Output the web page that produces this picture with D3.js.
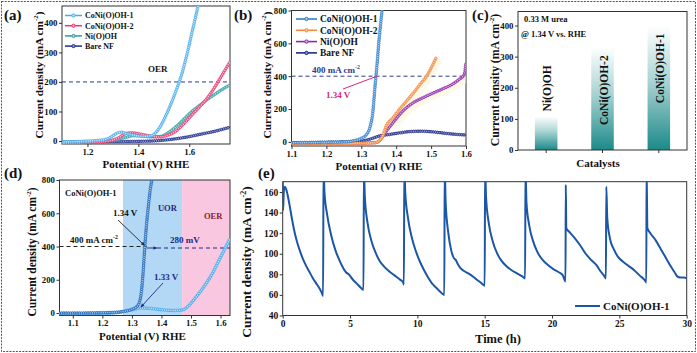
<!DOCTYPE html>
<html><head><meta charset="utf-8">
<script src="https://cdn.jsdelivr.net/npm/d3@7"></script>
<style>
html,body{margin:0;padding:0;background:#fff;}
svg{display:block;font-family:"Liberation Serif","Times New Roman",serif;font-weight:bold;}
</style></head>
<body><svg id="c" width="697" height="353"></svg>
<script>
// ---------- DATA ----------
// (a) OER LSV (1 M KOH)
const aSeriesNames = ["CoNi(O)OH-1","CoNi(O)OH-2","Ni(O)OH","Bare NF"];
const aCoNi1 = [[1.10,-3],[1.15,-2],[1.20,0],[1.25,3],[1.28,8],[1.30,18],[1.32,28],[1.335,30],[1.35,26],[1.38,20],[1.42,16],[1.45,18],[1.47,30],[1.49,55],[1.51,90],[1.53,130],[1.55,175],[1.57,225],[1.59,290],[1.61,365],[1.63,440],[1.64,480]];
const aCoNi2 = [[1.10,-8],[1.20,-5],[1.28,0],[1.32,10],[1.35,25],[1.37,28],[1.40,25],[1.44,18],[1.48,14],[1.51,18],[1.55,35],[1.58,60],[1.61,88],[1.64,115],[1.67,145],[1.70,182],[1.73,225],[1.76,268]];
const aNiOOH = [[1.10,-5],[1.20,-3],[1.30,2],[1.35,12],[1.38,18],[1.41,17],[1.45,14],[1.49,16],[1.52,30],[1.55,50],[1.58,75],[1.61,100],[1.64,120],[1.67,140],[1.70,158],[1.73,175],[1.76,190]];
const aBareNF = [[1.10,-3],[1.30,-2],[1.45,0],[1.50,3],[1.55,8],[1.60,15],[1.65,24],[1.70,33],[1.76,47]];
const aXTicks = [1.2,1.4,1.6];
const aYTicks = [0,100,200,300,400];
const aRef = 200;

// (b) UOR LSV (1 M KOH + 0.33 M urea)
const bCoNi1 = [[1.10,-5],[1.20,-3],[1.25,0],[1.28,8],[1.30,22],[1.315,45],[1.325,90],[1.333,180],[1.339,330],[1.345,470],[1.35,600],[1.356,730],[1.362,850]];
const bCoNi2 = [[1.10,-10],[1.20,-10],[1.30,-8],[1.34,-5],[1.35,5],[1.36,30],[1.372,100],[1.39,145],[1.41,200],[1.43,250],[1.45,300],[1.47,355],[1.487,400],[1.50,450],[1.515,515]];
const bNiOOH = [[1.10,-8],[1.30,-8],[1.345,-3],[1.355,15],[1.37,60],[1.39,115],[1.42,190],[1.45,240],[1.48,272],[1.50,292],[1.53,320],[1.56,350],[1.58,380],[1.595,410],[1.60,480]];
const bBareNF = [[1.10,-5],[1.20,-2],[1.30,5],[1.33,20],[1.35,35],[1.38,45],[1.41,55],[1.44,63],[1.47,65],[1.50,62],[1.53,55],[1.56,48],[1.60,42]];
const bXTicks = [1.1,1.2,1.3,1.4,1.5,1.6];
const bYTicks = [0,200,400,600,800];
const bRef = 400;

// (c) current density at 1.34 V
const cCategories = ["Ni(O)OH","CoNi(O)OH-2","CoNi(O)OH-1"];
const cValues = [108,330,400];
const cYTicks = [0,100,200,300,400];

// (d) CoNi(O)OH-1 UOR vs OER
const dUOR = [[1.055,0],[1.10,0],[1.20,2],[1.25,5],[1.28,12],[1.30,22],[1.32,45],[1.33,100],[1.337,220],[1.343,380],[1.348,500],[1.355,630],[1.362,740],[1.37,820]];
const dOER = [[1.055,-5],[1.10,-5],[1.20,-3],[1.25,2],[1.30,20],[1.33,30],[1.36,28],[1.40,20],[1.44,15],[1.47,18],[1.49,40],[1.51,80],[1.53,125],[1.55,175],[1.57,230],[1.59,300],[1.61,370],[1.63,440]];
const dUORRange = [1.27,1.47];
const dOERRange = [1.47,1.632];
const dXTicks = [1.1,1.2,1.3,1.4,1.5,1.6];
const dYTicks = [0,200,400,600,800];
const dRef = 400;

// (e) chronoamperometry
const eTime = [0,0.03,0.08,0.15,0.25,0.35,0.5,0.7,0.9,1.1,1.3,1.5,1.75,2.0,2.25,2.5,2.75,2.9,3.0,
 3.03,3.1,3.3,3.6,3.9,4.2,4.5,4.7,4.9,5.2,5.5,5.8,6.0,
 6.03,6.1,6.3,6.6,6.9,7.2,7.5,7.9,8.3,8.7,8.95,9.0,
 9.03,9.1,9.3,9.6,9.9,10.2,10.5,10.8,11.1,11.4,11.7,12.0,
 12.03,12.1,12.3,12.5,12.7,12.85,13.0,13.2,13.5,13.9,14.3,14.7,15.0,
 15.03,15.1,15.3,15.6,15.9,16.2,16.6,17.0,17.4,17.8,18.0,
 18.03,18.1,18.3,18.6,18.9,19.3,19.7,20.1,20.5,20.8,21.0,
 21.02,21.06,21.3,21.7,22.1,22.5,22.9,23.3,23.6,23.9,24.0,
 24.03,24.1,24.3,24.6,24.9,25.3,25.7,26.1,26.5,26.9,27.0,
 27.02,27.08,27.3,27.7,28.1,28.5,28.8,29.1,29.3,29.5,29.8,30.0];
const eCurrent = [185,142,160,165,163,158,148,133,120,110,102,95,88,82,76,71,66,62,59,
 185,160,138,118,104,94,86,82,80,75,71,67,65,
 185,155,130,112,101,93,88,83,79,75,72,70,
 185,160,135,115,102,92,84,77,71,67,63,60,
 185,150,120,104,96,94,90,86,83,80,76,72,69,
 185,155,130,112,101,94,88,84,81,78,76,
 185,150,128,112,102,94,89,85,82,79,73,
 167,125,121,115,108,100,94,89,83,78,76,
 165,135,115,104,97,92,88,84,79,74,72,
 185,125,120,113,104,95,88,82,78,77,77,76];
const eXTicks = [0,5,10,15,20,25,30];
const eYTicks = [40,60,80,100,120,140,160];
const eSeriesName = "CoNi(O)OH-1";

// ---------- DRAW ----------
const svg = d3.select("#c");
const AX = "#333";
let clipId = 0;

function styleAxis(a,fs){
  a.select(".domain").remove();a.selectAll("line").attr("stroke",AX);
  a.selectAll("text").attr("font-family","Liberation Serif").attr("font-weight","bold").attr("font-size",fs).attr("fill","#111");
}
function frame(o){
  const g = svg.append("g");
  const x = o.xScale, y = o.yScale;
  const xa = g.append("g").attr("transform",`translate(0,${o.b})`)
    .call(d3.axisBottom(x).tickValues(o.xt).tickSize(3).tickPadding(1.5).tickFormat(o.xf||(d=>d)));
  const ya = g.append("g").attr("transform",`translate(${o.l},0)`)
    .call(d3.axisLeft(y).tickValues(o.yt).tickSize(3).tickPadding(1.5).tickFormat(o.yf||(d=>d)));
  styleAxis(xa,o.tfs||8.8); styleAxis(ya,o.tfs||8.8);
  g.append("rect").attr("x",o.l).attr("y",o.t).attr("width",o.r-o.l).attr("height",o.b-o.t)
    .attr("fill","none").attr("stroke",AX).attr("stroke-width",1);
  const id = "clip"+(clipId++);
  svg.append("clipPath").attr("id",id).append("rect").attr("x",o.l).attr("y",o.t).attr("width",o.r-o.l).attr("height",o.b-o.t);
  return "url(#"+id+")";
}
function ylabel(x,y,size){
  const t = svg.append("text").attr("transform",`translate(${x},${y}) rotate(-90)`).attr("text-anchor","middle")
    .attr("font-size",size).attr("fill","#111");
  t.append("tspan").text("Current density (mA cm");
  t.append("tspan").attr("font-size",size*0.6).attr("dy",-size*0.4).text("-2");
  t.append("tspan").attr("dy",size*0.4).text(")");
}
function txt(x,y,s,size,anchor,color){
  return svg.append("text").attr("x",x).attr("y",y).attr("font-size",size).attr("text-anchor",anchor||"start").attr("fill",color||"#111").text(s);
}
function supTxt(x,y,base,sup,size,color){
  const t = svg.append("text").attr("x",x).attr("y",y).attr("font-size",size).attr("fill",color||"#111");
  t.append("tspan").text(base);
  t.append("tspan").attr("font-size",size*0.65).attr("dy",-size*0.4).text(sup);
  return t;
}
function beadCurve(g,data,x,y,color,fill,opt){
  opt=opt||{};
  const line = d3.line().x(d=>x(d[0])).y(d=>y(d[1])).curve(d3.curveMonotoneX);
  const p = g.append("path").attr("d",line(data)).attr("fill","none").attr("stroke",color).attr("stroke-width",opt.lw||1.2);
  const node = p.node(), L = node.getTotalLength(), sp = opt.sp||2.6, r = opt.r||1.5;
  for(let s=0;s<=L;s+=sp){
    const pt=node.getPointAtLength(s);
    g.append("circle").attr("cx",pt.x).attr("cy",pt.y).attr("r",r).attr("fill",fill).attr("stroke",color).attr("stroke-width",0.8);
  }
}
function arrow(x1,y1,x2,y2,color){
  const ang=Math.atan2(y2-y1,x2-x1), h=4;
  svg.append("line").attr("x1",x1).attr("y1",y1).attr("x2",x2).attr("y2",y2).attr("stroke",color).attr("stroke-width",0.9);
  svg.append("path").attr("d",`M${x2},${y2}L${x2-h*Math.cos(ang-0.45)},${y2-h*Math.sin(ang-0.45)}L${x2-h*Math.cos(ang+0.45)},${y2-h*Math.sin(ang+0.45)}Z`).attr("fill",color);
}

// outer dashed border
svg.append("rect").attr("x",1.5).attr("y",1.5).attr("width",694).attr("height",350)
  .attr("fill","none").attr("stroke","#555").attr("stroke-dasharray","2,1.2").attr("stroke-width",1);

// ===== (a) =====
{
  const o={l:62,r:230,t:6,b:144,xt:aXTicks,yt:aYTicks};
  o.xScale=d3.scaleLinear().domain([1.1,1.76]).range([o.l,o.r]);
  o.yScale=d3.scaleLinear().domain([-10,457]).range([o.b,o.t]);
  const cp=frame(o); const x=o.xScale,y=o.yScale;
  const g=svg.append("g").attr("clip-path",cp);
  g.append("line").attr("x1",o.l).attr("x2",o.r).attr("y1",y(aRef)).attr("y2",y(aRef)).attr("stroke","#2b3a8f").attr("stroke-dasharray","4,3").attr("stroke-width",1);
  const cols=[["#4aa9e9","#bfe3fa"],["#e8336f","#f7b8cc"],["#2a9d9c","#a9dcdb"],["#1f2e8c","#8f97d0"]];
  [aBareNF,aNiOOH,aCoNi2,aCoNi1].forEach((d,i)=>{const c=cols[3-i];beadCurve(g,d,x,y,c[0],c[1],{r:1.3,sp:2.2});});
  aSeriesNames.forEach((n,i)=>{const yy=15.5+i*10.2;
    svg.append("line").attr("x1",65).attr("x2",82).attr("y1",yy).attr("y2",yy).attr("stroke",cols[i][0]).attr("stroke-width",1.5);
    svg.append("circle").attr("cx",73.5).attr("cy",yy).attr("r",1.6).attr("fill",cols[i][1]).attr("stroke",cols[i][0]);
    txt(85,yy+2.8,n,8);});
  txt(148,72,"OER",9);
  txt(146,168,"Potential (V) RHE",11,"middle");
  ylabel(43,75,11.3);
  txt(4,20,"(a)",15);
}
// ===== (b) =====
{
  const o={l:291.5,r:466,t:10.5,b:146,xt:bXTicks,yt:bYTicks};
  o.xScale=d3.scaleLinear().domain([1.1,1.6]).range([o.l,o.r]);
  o.yScale=d3.scaleLinear().domain([-25,800]).range([o.b,o.t]);
  const cp=frame(o); const x=o.xScale,y=o.yScale;
  const g=svg.append("g").attr("clip-path",cp);
  const gl=d3.line().x(d=>x(d[0])+3).y(d=>y(d[1])+2).curve(d3.curveMonotoneX);
  [bCoNi2,bNiOOH].forEach(d=>g.append("path").attr("d",gl(d.filter(p=>p[0]>1.37))).attr("fill","none").attr("stroke","#fbf3d6").attr("stroke-width",7).attr("opacity",0.55));
  g.append("line").attr("x1",o.l).attr("x2",o.r).attr("y1",y(bRef)).attr("y2",y(bRef)).attr("stroke","#2b3a8f").attr("stroke-dasharray","4,3").attr("stroke-width",1);
  const cols=[["#2f7ec9","#a8cdef"],["#f58a3d","#fbc9a3"],["#8e2ba3","#d3a6dd"],["#1e2a80","#8c94cf"]];
  [bBareNF,bNiOOH,bCoNi2,bCoNi1].forEach((d,i)=>{const c=cols[3-i];beadCurve(g,d,x,y,c[0],c[1],{r:1.3,sp:2.2});});
  aSeriesNames.forEach((n,i)=>{const yy=19+i*11.3;
    svg.append("line").attr("x1",296).attr("x2",317).attr("y1",yy).attr("y2",yy).attr("stroke",cols[i][0]).attr("stroke-width",1.6);
    svg.append("circle").attr("cx",306.5).attr("cy",yy).attr("r",1.7).attr("fill",cols[i][1]).attr("stroke",cols[i][0]);
    txt(320,yy+3.2,n,9.5);});
  supTxt(312,73,"400 mA cm","-2",9,"#2b3a8f");
  txt(326,98,"1.34 V",9,"start","#d6287a");
  svg.append("line").attr("x1",343).attr("y1",89).attr("x2",x(1.345)).attr("y2",y(bRef)).attr("stroke","#d6287a").attr("stroke-width",1);
  txt(379,170,"Potential (V) RHE",11,"middle");
  ylabel(271,75,11.3);
  txt(234,20,"(b)",15);
}
// ===== (c) =====
{
  const o={l:518,r:687,t:11.5,b:150,yt:cYTicks};
  const x=d3.scaleBand().domain(cCategories).range([o.l,o.r]).paddingInner(0.6).paddingOuter(0.3);
  const y=d3.scaleLinear().domain([0,445]).range([o.b,o.t]);
  const defs=svg.append("defs");
  const gr=defs.append("linearGradient").attr("id","barg").attr("x1",0).attr("y1",0).attr("x2",0).attr("y2",1);
  gr.append("stop").attr("offset","0%").attr("stop-color","#ffffff");
  gr.append("stop").attr("offset","45%").attr("stop-color","#a9d3d2");
  gr.append("stop").attr("offset","100%").attr("stop-color","#1b8a89");
  svg.selectAll(".bar").data(cValues).enter().append("rect")
    .attr("x",(d,i)=>x(cCategories[i])).attr("width",x.bandwidth())
    .attr("y",d=>y(d)).attr("height",d=>y(0)-y(d)).attr("fill","url(#barg)");
  const g=svg.append("g");
  const xa=g.append("g").attr("transform",`translate(0,${o.b})`).call(d3.axisBottom(x).tickSize(3).tickFormat(""));
  const ya=g.append("g").attr("transform",`translate(${o.l},0)`).call(d3.axisLeft(y).tickValues(o.yt).tickSize(3).tickPadding(1.5));
  styleAxis(xa,8.8); styleAxis(ya,8.8);
  g.append("rect").attr("x",o.l).attr("y",o.t).attr("width",o.r-o.l).attr("height",o.b-o.t).attr("fill","none").attr("stroke",AX);
  cCategories.forEach((c,i)=>{
    const cx=x(c)+x.bandwidth()/2+1;
    const first = i===0;
    const pos = first ? y(cValues[i])-5 : y(cValues[i])+8;
    svg.append("text").attr("transform",`translate(${cx+4},${pos}) rotate(-90)`).attr("text-anchor",first?"start":"end")
      .attr("font-size",11.5).attr("fill","#111").text(c);
  });
  txt(524,22,"0.33 M urea",8.5);
  txt(521,37,"@ 1.34 V vs. RHE",8.5);
  txt(598,167,"Catalysts",11,"middle");
  ylabel(499,80,11.8);
  txt(472,20,"(c)",15);
}
// ===== (d) =====
{
  const o={l:59.5,r:230,t:180,b:315.5,xt:dXTicks,yt:dYTicks};
  o.xScale=d3.scaleLinear().domain([1.055,1.632]).range([o.l,o.r]);
  o.yScale=d3.scaleLinear().domain([-15,800]).range([o.b,o.t]);
  const x=o.xScale,y=o.yScale;
  const g=svg.append("g");
  g.append("rect").attr("x",x(dUORRange[0])).attr("width",x(dUORRange[1])-x(dUORRange[0])).attr("y",o.t).attr("height",o.b-o.t).attr("fill","#b2d8f6");
  g.append("rect").attr("x",x(dOERRange[0])).attr("width",x(dOERRange[1])-x(dOERRange[0])).attr("y",o.t).attr("height",o.b-o.t).attr("fill","#f9c7e0");
  const cp=frame(o);
  const gc=svg.append("g").attr("clip-path",cp);
  gc.append("line").attr("x1",o.l).attr("x2",x(1.35)).attr("y1",y(dRef)).attr("y2",y(dRef)).attr("stroke","#222").attr("stroke-dasharray","4,3").attr("stroke-width",1);
  gc.append("line").attr("x1",x(1.385)).attr("x2",o.r).attr("y1",y(dRef)+1.5).attr("y2",y(dRef)+1.5).attr("stroke","#1e2a80").attr("stroke-dasharray","4,3").attr("stroke-width",1);
  beadCurve(gc,dOER,x,y,"#3aa3ea","#bfe2fa",{r:1.3,sp:2.2});
  beadCurve(gc,dUOR,x,y,"#1f63b5","#9cc2ea",{r:1.3,sp:2.2});
  txt(65,196,"CoNi(O)OH-1",8.5);
  txt(x(1.42),211,"UOR",8.5,"middle","#1e2a80");
  txt(x(1.575),219,"OER",8.5,"middle","#8b1a2a");
  supTxt(70,243,"400 mA cm","-2",9);
  txt(170,243,"280 mV",9,"start","#1e2a80");
  txt(113,216,"1.34 V",9);
  txt(154,280,"1.33 V",9,"start","#1e2a80");
  arrow(118,220,x(1.343),y(dRef)-1,"#222");
  arrow(x(1.35),y(dRef)+1.5,x(1.385),y(dRef)+1.5,"#1e2a80");
  arrow(163,283,x(1.33),y(35),"#1e2a80");
  txt(142.5,340,"Potential (V) RHE",11,"middle");
  ylabel(36,252,11.5);
  txt(4,178,"(d)",15);
}
// ===== (e) =====
{
  const o={l:282.7,r:686.7,t:181.7,b:315.5,xt:eXTicks,yt:eYTicks,tfs:9.5};
  o.xScale=d3.scaleLinear().domain([0,30]).range([o.l,o.r]);
  o.yScale=d3.scaleLinear().domain([40,170]).range([o.b,o.t]);
  const cp=frame(o); const x=o.xScale,y=o.yScale;
  const g=svg.append("g").attr("clip-path",cp);
  const pts=eTime.map((t,i)=>[t,eCurrent[i]]);
  g.append("path").attr("d",d3.line().x(d=>x(d[0])).y(d=>y(d[1])).curve(d3.curveMonotoneX)(pts))
    .attr("fill","none").attr("stroke","#1c56a6").attr("stroke-width",2).attr("stroke-linejoin","round");
  svg.append("line").attr("x1",575).attr("x2",600).attr("y1",306).attr("y2",306).attr("stroke","#1c56a6").attr("stroke-width",2);
  txt(603,310,eSeriesName,11);
  txt(498,343,"Time (h)",12.5,"middle");
  ylabel(251,262,13.5);
  txt(258,178,"(e)",15);
}
</script></body></html>
